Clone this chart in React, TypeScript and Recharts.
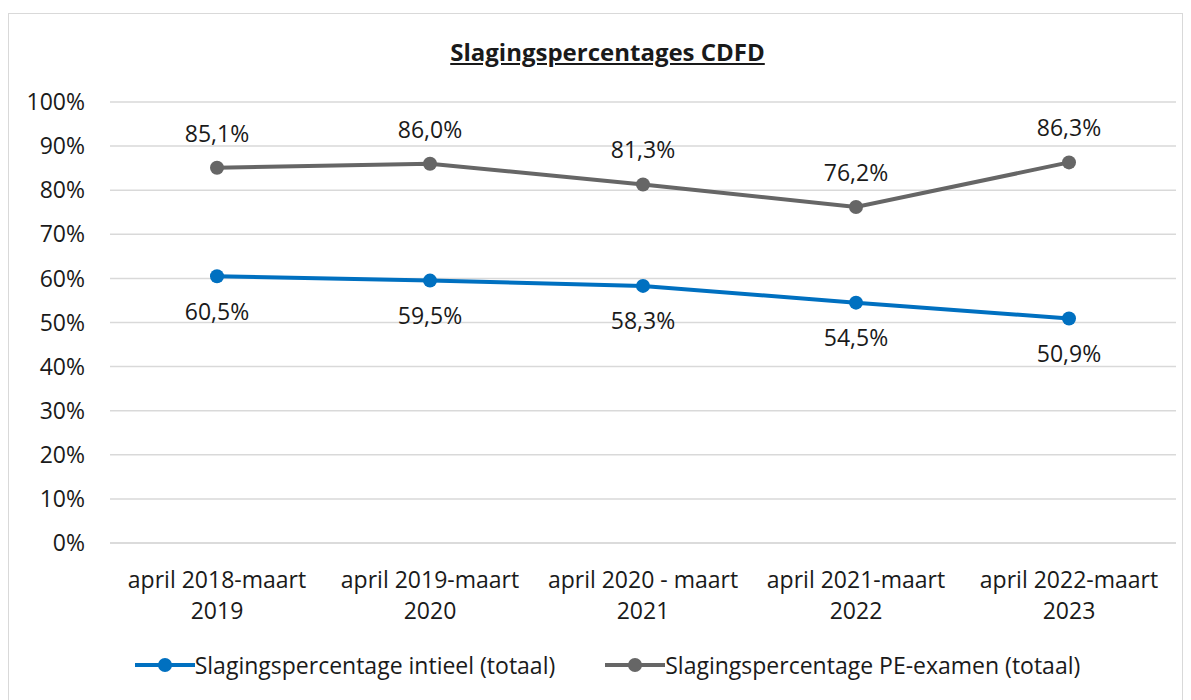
import React from "react";
import { LineChart, Line, XAxis, YAxis, CartesianGrid, Legend, LabelList } from "recharts";

const categories = [
  "april 2018-maart\n2019",
  "april 2019-maart\n2020",
  "april 2020 - maart\n2021",
  "april 2021-maart\n2022",
  "april 2022-maart\n2023",
];
const initieel = [60.5, 59.5, 58.3, 54.5, 50.9];
const peExamen = [85.1, 86.0, 81.3, 76.2, 86.3];
const yTicks = [0, 10, 20, 30, 40, 50, 60, 70, 80, 90, 100];

const BLUE = "#0070C0";
const GRAY = "#666666";
const TEXT = "#1a1a1a";
const FONT = "'Open Sans', sans-serif";
const FS = 23;

const seriesInfo = [
  { key: "initieel", name: "Slagingspercentage intieel (totaal)", color: BLUE },
  { key: "pe", name: "Slagingspercentage PE-examen (totaal)", color: GRAY },
];

const data = categories.map((c, i) => ({ cat: c, initieel: initieel[i], pe: peExamen[i] }));

const fmt = (v: number) => v.toFixed(1).replace(".", ",") + "%";

const CatTick = ({ x, y, payload }: any) => {
  const lines = String(payload.value).split("\n");
  return (
    <text x={x} y={y} textAnchor="middle" fill={TEXT} fontSize={FS} fontFamily={FONT}>
      {lines.map((l, i) => (
        <tspan key={i} x={x} dy={i === 0 ? 45 : 31}>
          {l}
        </tspan>
      ))}
    </text>
  );
};

const LegendContent = () => (
  <div style={{ height: 60, display: "flex", justifyContent: "center", alignItems: "center", gap: 50, paddingLeft: 30, fontFamily: FONT, fontSize: FS, color: TEXT }}>
    {seriesInfo.map((s) => (
      <div key={s.key} style={{ display: "flex", alignItems: "center" }}>
        <svg width={60} height={16}>
          <line x1={0} y1={8} x2={60} y2={8} stroke={s.color} strokeWidth={4} />
          <circle cx={30} cy={8} r={7} fill={s.color} />
        </svg>
        <span>{s.name}</span>
      </div>
    ))}
  </div>
);

export default function App() {
  return (
    <div style={{ paddingTop: 5 }}>
      <div style={{ position: "relative", width: 1175, height: 690, border: "1px solid #d9d9d9", boxSizing: "border-box", fontFamily: FONT, background: "#fff" }}>
        <div style={{ position: "absolute", top: 21, left: 24, right: 0, textAlign: "center", fontWeight: 700, fontSize: 24, textDecoration: "underline", color: TEXT }}>
          Slagingspercentages CDFD
        </div>
        <LineChart width={1173} height={688} data={data} margin={{ top: 88, right: 6, bottom: 7, left: 0 }}>
          <CartesianGrid vertical={false} stroke="#d9d9d9" strokeWidth={1.5} />
          <XAxis
            dataKey="cat"
            interval={0}
            height={92}
            tick={<CatTick />}
            tickLine={false}
            tickSize={0}
            tickMargin={0}
            axisLine={{ stroke: "#d9d9d9", strokeWidth: 1.5 }}
            padding={{ left: 107, right: 107 }}
          />
          <YAxis
            width={101}
            domain={[0, 100]}
            ticks={yTicks}
            tickFormatter={(v: number) => `${v}%`}
            axisLine={false}
            tickLine={false}
            tickMargin={19}
            tick={{ fill: TEXT, fontSize: FS, fontFamily: FONT }}
          />
          <Legend verticalAlign="bottom" height={60} content={<LegendContent />} />
          <Line dataKey="initieel" name={seriesInfo[0].name} stroke={BLUE} strokeWidth={4} dot={{ r: 7, fill: BLUE, stroke: "none" }} activeDot={false} isAnimationActive={false}>
            <LabelList dataKey="initieel" position="bottom" offset={27} formatter={(v: any) => fmt(Number(v))} fill={TEXT} fontSize={FS} fontFamily={FONT} />
          </Line>
          <Line dataKey="pe" name={seriesInfo[1].name} stroke={GRAY} strokeWidth={4} dot={{ r: 7, fill: GRAY, stroke: "none" }} activeDot={false} isAnimationActive={false}>
            <LabelList dataKey="pe" position="top" offset={26} formatter={(v: any) => fmt(Number(v))} fill={TEXT} fontSize={FS} fontFamily={FONT} />
          </Line>
        </LineChart>
      </div>
    </div>
  );
}
